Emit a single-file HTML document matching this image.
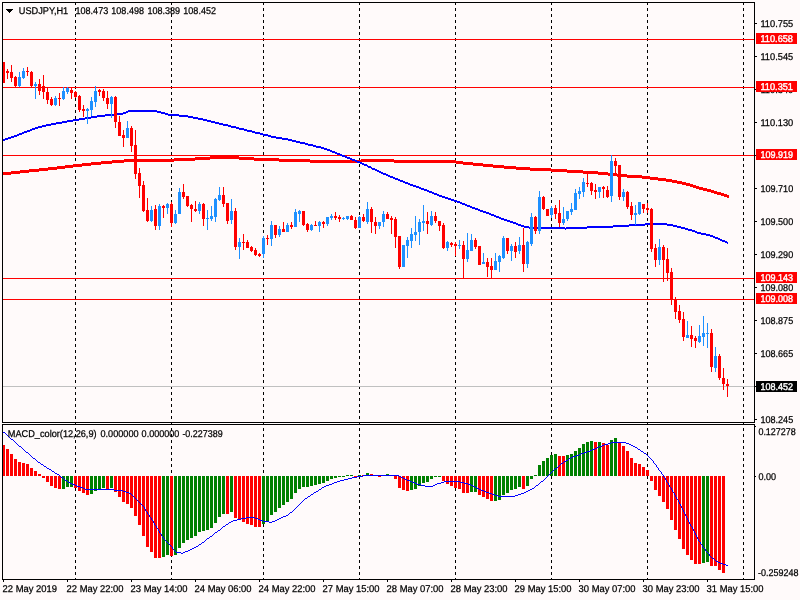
<!DOCTYPE html>
<html><head><meta charset="utf-8"><title>USDJPY,H1</title>
<style>html,body{margin:0;padding:0;background:#fffafa;overflow:hidden}svg{display:block}text{font-family:"Liberation Sans",sans-serif;font-size:9.8px;text-rendering:geometricPrecision;stroke:#000;stroke-width:0.25px}text.w{stroke:#fff;stroke-width:0.4px}</style>
</head><body>
<svg width="800" height="600" viewBox="0 0 800 600">
<rect x="0" y="0" width="800" height="600" fill="#fffafa"/>
<g shape-rendering="crispEdges">
<line x1="75.5" y1="2" x2="75.5" y2="579" stroke="#000" stroke-width="1" stroke-dasharray="3 3"/>
<line x1="171.5" y1="2" x2="171.5" y2="579" stroke="#000" stroke-width="1" stroke-dasharray="3 3"/>
<line x1="263.5" y1="2" x2="263.5" y2="579" stroke="#000" stroke-width="1" stroke-dasharray="3 3"/>
<line x1="359.5" y1="2" x2="359.5" y2="579" stroke="#000" stroke-width="1" stroke-dasharray="3 3"/>
<line x1="455.5" y1="2" x2="455.5" y2="579" stroke="#000" stroke-width="1" stroke-dasharray="3 3"/>
<line x1="551.5" y1="2" x2="551.5" y2="579" stroke="#000" stroke-width="1" stroke-dasharray="3 3"/>
<line x1="647.5" y1="2" x2="647.5" y2="579" stroke="#000" stroke-width="1" stroke-dasharray="3 3"/>
<line x1="743.5" y1="2" x2="743.5" y2="579" stroke="#000" stroke-width="1" stroke-dasharray="3 3"/>
<rect x="3" y="39" width="751" height="1" fill="#ff0000"/>
<rect x="3" y="87" width="751" height="1" fill="#ff0000"/>
<rect x="3" y="155" width="751" height="1" fill="#ff0000"/>
<rect x="3" y="278" width="751" height="1" fill="#ff0000"/>
<rect x="3" y="299" width="751" height="1" fill="#ff0000"/>
<rect x="3" y="386" width="751" height="1" fill="#c0c0c0"/>
</g>
<path shape-rendering="crispEdges" fill="#ff0000" d="M3 172h8v3h-8zM11 171h9v3h-9zM20 170h9v3h-9zM29 169h10v3h-10zM39 168h9v3h-9zM48 167h9v3h-9zM57 166h8v3h-8zM65 165h8v3h-8zM73 164h9v3h-9zM82 163h9v3h-9zM91 162h10v3h-10zM101 161h11v3h-11zM112 160h12v3h-12zM124 159h50v3h-50zM174 158h21v3h-21zM195 157h15v3h-15zM210 156h29v3h-29zM239 157h15v3h-15zM254 158h25v3h-25zM279 159h31v3h-31zM310 160h51v3h-51zM361 159h33v3h-33zM394 160h62v3h-62zM456 161h7v3h-7zM463 162h10v3h-10zM473 163h10v3h-10zM483 164h10v3h-10zM493 165h11v3h-11zM504 166h12v3h-12zM516 167h14v3h-14zM530 168h21v3h-21zM551 169h16v3h-16zM567 170h16v3h-16zM583 171h15v3h-15zM598 172h10v3h-10zM608 173h9v3h-9zM617 174h10v3h-10zM627 175h15v3h-15zM642 176h8v3h-8zM650 177h8v3h-8zM658 178h8v3h-8zM666 179h6v3h-6zM672 180h5v3h-5zM677 181h5v3h-5zM682 182h4v3h-4zM686 183h4v3h-4zM690 184h3v3h-3zM693 185h3v3h-3zM696 186h3v3h-3zM699 187h4v3h-4zM703 188h4v3h-4zM707 189h4v3h-4zM711 190h3v3h-3zM714 191h3v3h-3zM717 192h4v3h-4zM721 193h3v3h-3zM724 194h3v3h-3zM727 195h2v3h-2z"/>
<path shape-rendering="crispEdges" fill="#0000ff" d="M3 139h2v2h-2zM5 138h3v2h-3zM8 137h3v2h-3zM11 136h3v2h-3zM14 135h3v2h-3zM17 134h2v2h-2zM19 133h3v2h-3zM22 132h2v2h-2zM24 131h3v2h-3zM27 130h3v2h-3zM30 129h2v2h-2zM32 128h3v2h-3zM35 127h3v2h-3zM38 126h4v2h-4zM42 125h4v2h-4zM46 124h5v2h-5zM51 123h5v2h-5zM56 122h6v2h-6zM62 121h5v2h-5zM67 120h6v2h-6zM73 119h6v2h-6zM79 118h6v2h-6zM85 117h6v2h-6zM91 116h6v2h-6zM97 115h8v2h-8zM105 114h12v2h-12zM117 113h6v2h-6zM123 112h3v2h-3zM126 111h2v2h-2zM128 110h29v2h-29zM157 111h4v2h-4zM161 112h4v2h-4zM165 113h3v2h-3zM168 114h11v2h-11zM179 115h9v2h-9zM188 116h5v2h-5zM193 117h5v2h-5zM198 118h5v2h-5zM203 119h4v2h-4zM207 120h4v2h-4zM211 121h4v2h-4zM215 122h4v2h-4zM219 123h4v2h-4zM223 124h5v2h-5zM228 125h3v2h-3zM231 126h5v2h-5zM236 127h3v2h-3zM239 128h5v2h-5zM244 129h3v2h-3zM247 130h5v2h-5zM252 131h3v2h-3zM255 132h5v2h-5zM260 133h3v2h-3zM263 134h5v2h-5zM268 135h3v2h-3zM271 136h5v2h-5zM276 137h6v2h-6zM282 138h6v2h-6zM288 139h4v2h-4zM292 140h4v2h-4zM296 141h4v2h-4zM300 142h5v2h-5zM305 143h3v2h-3zM308 144h5v2h-5zM313 145h3v2h-3zM316 146h5v2h-5zM321 147h3v2h-3zM324 148h3v2h-3zM327 149h3v2h-3zM330 150h2v2h-2zM332 151h3v2h-3zM335 152h2v2h-2zM337 153h3v2h-3zM340 154h2v2h-2zM342 155h3v2h-3zM345 156h2v2h-2zM347 157h3v2h-3zM350 158h2v2h-2zM352 159h3v2h-3zM355 160h2v2h-2zM357 161h3v2h-3zM360 162h2v2h-2zM362 163h2v2h-2zM364 164h3v2h-3zM367 165h1v2h-1zM368 166h3v2h-3zM371 167h1v2h-1zM372 168h3v2h-3zM375 169h2v2h-2zM377 170h2v2h-2zM379 171h2v2h-2zM381 172h2v2h-2zM383 173h3v2h-3zM386 174h2v2h-2zM388 175h2v2h-2zM390 176h3v2h-3zM393 177h2v2h-2zM395 178h3v2h-3zM398 179h2v2h-2zM400 180h3v2h-3zM403 181h2v2h-2zM405 182h3v2h-3zM408 183h2v2h-2zM410 184h3v2h-3zM413 185h3v2h-3zM416 186h3v2h-3zM419 187h2v2h-2zM421 188h3v2h-3zM424 189h3v2h-3zM427 190h2v2h-2zM429 191h3v2h-3zM432 192h2v2h-2zM434 193h3v2h-3zM437 194h2v2h-2zM439 195h3v2h-3zM442 196h3v2h-3zM445 197h3v2h-3zM448 198h3v2h-3zM451 199h3v2h-3zM454 200h3v2h-3zM457 201h3v2h-3zM460 202h2v2h-2zM462 203h3v2h-3zM465 204h2v2h-2zM467 205h3v2h-3zM470 206h2v2h-2zM472 207h3v2h-3zM475 208h3v2h-3zM478 209h2v2h-2zM480 210h3v2h-3zM483 211h3v2h-3zM486 212h3v2h-3zM489 213h2v2h-2zM491 214h3v2h-3zM494 215h2v2h-2zM496 216h3v2h-3zM499 217h2v2h-2zM501 218h3v2h-3zM504 219h3v2h-3zM507 220h3v2h-3zM510 221h3v2h-3zM513 222h3v2h-3zM516 223h2v2h-2zM518 224h3v2h-3zM521 225h3v2h-3zM524 226h5v2h-5zM529 227h36v2h-36zM565 228h1v2h-1zM566 227h21v2h-21zM587 226h26v2h-26zM613 225h16v2h-16zM629 224h16v2h-16zM645 223h22v2h-22zM667 224h6v2h-6zM673 225h4v2h-4zM677 226h4v2h-4zM681 227h4v2h-4zM685 228h3v2h-3zM688 229h4v2h-4zM692 230h3v2h-3zM695 231h2v2h-2zM697 232h4v2h-4zM701 233h5v2h-5zM706 234h4v2h-4zM710 235h3v2h-3zM713 236h2v2h-2zM715 237h3v2h-3zM718 238h2v2h-2zM720 239h2v2h-2zM722 240h3v2h-3zM725 241h2v2h-2zM727 242h1v2h-1z"/>
<g shape-rendering="crispEdges">
<rect x="3" y="62" width="1" height="21" fill="#ff0000"/><rect x="2" y="62" width="3" height="21" fill="#ff0000"/>
<rect x="7" y="69" width="1" height="10" fill="#ff0000"/><rect x="6" y="71" width="3" height="2" fill="#ff0000"/>
<rect x="11" y="65" width="1" height="17" fill="#ff0000"/><rect x="10" y="72" width="3" height="6" fill="#ff0000"/>
<rect x="15" y="76" width="1" height="11" fill="#ff0000"/><rect x="14" y="77" width="3" height="9" fill="#ff0000"/>
<rect x="19" y="72" width="1" height="15" fill="#1e90ff"/><rect x="18" y="77" width="3" height="9" fill="#1e90ff"/>
<rect x="23" y="68" width="1" height="11" fill="#1e90ff"/><rect x="22" y="71" width="3" height="7" fill="#1e90ff"/>
<rect x="27" y="67" width="1" height="9" fill="#ff0000"/><rect x="26" y="71" width="3" height="1" fill="#ff0000"/>
<rect x="31" y="71" width="1" height="16" fill="#ff0000"/><rect x="30" y="72" width="3" height="14" fill="#ff0000"/>
<rect x="35" y="82" width="1" height="17" fill="#1e90ff"/><rect x="34" y="84" width="3" height="2" fill="#1e90ff"/>
<rect x="39" y="79" width="1" height="16" fill="#ff0000"/><rect x="38" y="84" width="3" height="7" fill="#ff0000"/>
<rect x="43" y="75" width="1" height="24" fill="#ff0000"/><rect x="42" y="86" width="3" height="6" fill="#ff0000"/>
<rect x="47" y="88" width="1" height="16" fill="#ff0000"/><rect x="46" y="92" width="3" height="8" fill="#ff0000"/>
<rect x="51" y="97" width="1" height="9" fill="#ff0000"/><rect x="50" y="99" width="3" height="6" fill="#ff0000"/>
<rect x="55" y="96" width="1" height="10" fill="#1e90ff"/><rect x="54" y="98" width="3" height="7" fill="#1e90ff"/>
<rect x="59" y="93" width="1" height="13" fill="#ff0000"/><rect x="58" y="98" width="3" height="1" fill="#ff0000"/>
<rect x="63" y="87" width="1" height="13" fill="#1e90ff"/><rect x="62" y="91" width="3" height="8" fill="#1e90ff"/>
<rect x="67" y="87" width="1" height="7" fill="#1e90ff"/><rect x="66" y="88" width="3" height="4" fill="#1e90ff"/>
<rect x="71" y="88" width="1" height="11" fill="#ff0000"/><rect x="70" y="90" width="3" height="3" fill="#ff0000"/>
<rect x="75" y="91" width="1" height="7" fill="#ff0000"/><rect x="74" y="92" width="3" height="5" fill="#ff0000"/>
<rect x="79" y="95" width="1" height="17" fill="#ff0000"/><rect x="78" y="96" width="3" height="14" fill="#ff0000"/>
<rect x="83" y="105" width="1" height="12" fill="#ff0000"/><rect x="82" y="109" width="3" height="2" fill="#ff0000"/>
<rect x="87" y="108" width="1" height="16" fill="#1e90ff"/><rect x="86" y="109" width="3" height="2" fill="#1e90ff"/>
<rect x="91" y="97" width="1" height="19" fill="#1e90ff"/><rect x="90" y="101" width="3" height="9" fill="#1e90ff"/>
<rect x="95" y="86" width="1" height="21" fill="#1e90ff"/><rect x="94" y="91" width="3" height="11" fill="#1e90ff"/>
<rect x="99" y="89" width="1" height="7" fill="#ff0000"/><rect x="98" y="90" width="3" height="2" fill="#ff0000"/>
<rect x="103" y="89" width="1" height="12" fill="#ff0000"/><rect x="102" y="91" width="3" height="7" fill="#ff0000"/>
<rect x="107" y="91" width="1" height="18" fill="#ff0000"/><rect x="106" y="98" width="3" height="6" fill="#ff0000"/>
<rect x="111" y="96" width="1" height="22" fill="#1e90ff"/><rect x="110" y="97" width="3" height="7" fill="#1e90ff"/>
<rect x="115" y="96" width="1" height="32" fill="#ff0000"/><rect x="114" y="97" width="3" height="25" fill="#ff0000"/>
<rect x="119" y="116" width="1" height="20" fill="#ff0000"/><rect x="118" y="122" width="3" height="14" fill="#ff0000"/>
<rect x="123" y="130" width="1" height="17" fill="#ff0000"/><rect x="122" y="135" width="3" height="3" fill="#ff0000"/>
<rect x="127" y="121" width="1" height="17" fill="#1e90ff"/><rect x="126" y="128" width="3" height="10" fill="#1e90ff"/>
<rect x="131" y="126" width="1" height="26" fill="#ff0000"/><rect x="130" y="128" width="3" height="18" fill="#ff0000"/>
<rect x="135" y="130" width="1" height="49" fill="#ff0000"/><rect x="134" y="145" width="3" height="29" fill="#ff0000"/>
<rect x="139" y="168" width="1" height="30" fill="#ff0000"/><rect x="138" y="173" width="3" height="13" fill="#ff0000"/>
<rect x="143" y="181" width="1" height="31" fill="#ff0000"/><rect x="142" y="185" width="3" height="26" fill="#ff0000"/>
<rect x="147" y="198" width="1" height="24" fill="#ff0000"/><rect x="146" y="210" width="3" height="11" fill="#ff0000"/>
<rect x="151" y="206" width="1" height="16" fill="#1e90ff"/><rect x="150" y="210" width="3" height="11" fill="#1e90ff"/>
<rect x="155" y="205" width="1" height="25" fill="#ff0000"/><rect x="154" y="209" width="3" height="17" fill="#ff0000"/>
<rect x="159" y="204" width="1" height="26" fill="#1e90ff"/><rect x="158" y="206" width="3" height="20" fill="#1e90ff"/>
<rect x="163" y="205" width="1" height="13" fill="#ff0000"/><rect x="162" y="206" width="3" height="2" fill="#ff0000"/>
<rect x="167" y="203" width="1" height="11" fill="#1e90ff"/><rect x="166" y="204" width="3" height="4" fill="#1e90ff"/>
<rect x="171" y="202" width="1" height="25" fill="#ff0000"/><rect x="170" y="204" width="3" height="19" fill="#ff0000"/>
<rect x="175" y="210" width="1" height="14" fill="#1e90ff"/><rect x="174" y="214" width="3" height="9" fill="#1e90ff"/>
<rect x="179" y="188" width="1" height="26" fill="#1e90ff"/><rect x="178" y="192" width="3" height="22" fill="#1e90ff"/>
<rect x="183" y="184" width="1" height="15" fill="#ff0000"/><rect x="182" y="192" width="3" height="5" fill="#ff0000"/>
<rect x="187" y="196" width="1" height="11" fill="#ff0000"/><rect x="186" y="196" width="3" height="10" fill="#ff0000"/>
<rect x="191" y="204" width="1" height="18" fill="#ff0000"/><rect x="190" y="205" width="3" height="4" fill="#ff0000"/>
<rect x="195" y="201" width="1" height="11" fill="#ff0000"/><rect x="194" y="209" width="3" height="2" fill="#ff0000"/>
<rect x="199" y="202" width="1" height="12" fill="#1e90ff"/><rect x="198" y="204" width="3" height="7" fill="#1e90ff"/>
<rect x="203" y="203" width="1" height="23" fill="#ff0000"/><rect x="202" y="204" width="3" height="15" fill="#ff0000"/>
<rect x="207" y="210" width="1" height="20" fill="#1e90ff"/><rect x="206" y="218" width="3" height="1" fill="#1e90ff"/>
<rect x="211" y="206" width="1" height="15" fill="#1e90ff"/><rect x="210" y="216" width="3" height="3" fill="#1e90ff"/>
<rect x="215" y="198" width="1" height="24" fill="#1e90ff"/><rect x="214" y="199" width="3" height="18" fill="#1e90ff"/>
<rect x="219" y="187" width="1" height="14" fill="#1e90ff"/><rect x="218" y="195" width="3" height="5" fill="#1e90ff"/>
<rect x="223" y="187" width="1" height="20" fill="#ff0000"/><rect x="222" y="195" width="3" height="9" fill="#ff0000"/>
<rect x="227" y="203" width="1" height="21" fill="#ff0000"/><rect x="226" y="203" width="3" height="18" fill="#ff0000"/>
<rect x="231" y="199" width="1" height="25" fill="#1e90ff"/><rect x="230" y="211" width="3" height="9" fill="#1e90ff"/>
<rect x="235" y="208" width="1" height="42" fill="#ff0000"/><rect x="234" y="211" width="3" height="36" fill="#ff0000"/>
<rect x="239" y="238" width="1" height="21" fill="#1e90ff"/><rect x="238" y="242" width="3" height="5" fill="#1e90ff"/>
<rect x="243" y="234" width="1" height="16" fill="#ff0000"/><rect x="242" y="242" width="3" height="1" fill="#ff0000"/>
<rect x="247" y="240" width="1" height="8" fill="#ff0000"/><rect x="246" y="242" width="3" height="6" fill="#ff0000"/>
<rect x="251" y="246" width="1" height="6" fill="#ff0000"/><rect x="250" y="247" width="3" height="4" fill="#ff0000"/>
<rect x="255" y="248" width="1" height="8" fill="#ff0000"/><rect x="254" y="250" width="3" height="5" fill="#ff0000"/>
<rect x="259" y="253" width="1" height="4" fill="#ff0000"/><rect x="258" y="254" width="3" height="2" fill="#ff0000"/>
<rect x="263" y="236" width="1" height="22" fill="#1e90ff"/><rect x="262" y="238" width="3" height="16" fill="#1e90ff"/>
<rect x="267" y="235" width="1" height="10" fill="#ff0000"/><rect x="266" y="238" width="3" height="1" fill="#ff0000"/>
<rect x="271" y="221" width="1" height="25" fill="#1e90ff"/><rect x="270" y="225" width="3" height="14" fill="#1e90ff"/>
<rect x="275" y="225" width="1" height="13" fill="#ff0000"/><rect x="274" y="225" width="3" height="10" fill="#ff0000"/>
<rect x="279" y="226" width="1" height="11" fill="#1e90ff"/><rect x="278" y="229" width="3" height="6" fill="#1e90ff"/>
<rect x="283" y="222" width="1" height="10" fill="#ff0000"/><rect x="282" y="229" width="3" height="3" fill="#ff0000"/>
<rect x="287" y="223" width="1" height="9" fill="#1e90ff"/><rect x="286" y="225" width="3" height="7" fill="#1e90ff"/>
<rect x="291" y="222" width="1" height="7" fill="#ff0000"/><rect x="290" y="225" width="3" height="2" fill="#ff0000"/>
<rect x="295" y="209" width="1" height="18" fill="#1e90ff"/><rect x="294" y="212" width="3" height="15" fill="#1e90ff"/>
<rect x="299" y="210" width="1" height="12" fill="#1e90ff"/><rect x="298" y="211" width="3" height="3" fill="#1e90ff"/>
<rect x="303" y="211" width="1" height="15" fill="#ff0000"/><rect x="302" y="211" width="3" height="14" fill="#ff0000"/>
<rect x="307" y="223" width="1" height="9" fill="#ff0000"/><rect x="306" y="224" width="3" height="6" fill="#ff0000"/>
<rect x="311" y="224" width="1" height="7" fill="#1e90ff"/><rect x="310" y="225" width="3" height="5" fill="#1e90ff"/>
<rect x="315" y="221" width="1" height="5" fill="#ff0000"/><rect x="314" y="225" width="3" height="1" fill="#ff0000"/>
<rect x="319" y="221" width="1" height="11" fill="#1e90ff"/><rect x="318" y="222" width="3" height="4" fill="#1e90ff"/>
<rect x="323" y="221" width="1" height="7" fill="#ff0000"/><rect x="322" y="222" width="3" height="2" fill="#ff0000"/>
<rect x="327" y="217" width="1" height="9" fill="#1e90ff"/><rect x="326" y="217" width="3" height="7" fill="#1e90ff"/>
<rect x="331" y="214" width="1" height="6" fill="#1e90ff"/><rect x="330" y="216" width="3" height="2" fill="#1e90ff"/>
<rect x="335" y="212" width="1" height="8" fill="#ff0000"/><rect x="334" y="216" width="3" height="2" fill="#ff0000"/>
<rect x="339" y="215" width="1" height="7" fill="#ff0000"/><rect x="338" y="217" width="3" height="2" fill="#ff0000"/>
<rect x="343" y="217" width="1" height="3" fill="#1e90ff"/><rect x="342" y="218" width="3" height="1" fill="#1e90ff"/>
<rect x="347" y="216" width="1" height="4" fill="#1e90ff"/><rect x="346" y="216" width="3" height="3" fill="#1e90ff"/>
<rect x="351" y="215" width="1" height="5" fill="#ff0000"/><rect x="350" y="216" width="3" height="4" fill="#ff0000"/>
<rect x="355" y="217" width="1" height="12" fill="#ff0000"/><rect x="354" y="220" width="3" height="8" fill="#ff0000"/>
<rect x="359" y="216" width="1" height="12" fill="#1e90ff"/><rect x="358" y="217" width="3" height="11" fill="#1e90ff"/>
<rect x="363" y="214" width="1" height="8" fill="#ff0000"/><rect x="362" y="217" width="3" height="4" fill="#ff0000"/>
<rect x="367" y="202" width="1" height="22" fill="#1e90ff"/><rect x="366" y="209" width="3" height="13" fill="#1e90ff"/>
<rect x="371" y="207" width="1" height="26" fill="#ff0000"/><rect x="370" y="209" width="3" height="13" fill="#ff0000"/>
<rect x="375" y="217" width="1" height="17" fill="#ff0000"/><rect x="374" y="222" width="3" height="4" fill="#ff0000"/>
<rect x="379" y="222" width="1" height="7" fill="#1e90ff"/><rect x="378" y="222" width="3" height="4" fill="#1e90ff"/>
<rect x="383" y="211" width="1" height="16" fill="#1e90ff"/><rect x="382" y="214" width="3" height="8" fill="#1e90ff"/>
<rect x="387" y="212" width="1" height="7" fill="#ff0000"/><rect x="386" y="214" width="3" height="5" fill="#ff0000"/>
<rect x="391" y="216" width="1" height="18" fill="#ff0000"/><rect x="390" y="218" width="3" height="2" fill="#ff0000"/>
<rect x="395" y="217" width="1" height="31" fill="#ff0000"/><rect x="394" y="219" width="3" height="18" fill="#ff0000"/>
<rect x="399" y="236" width="1" height="33" fill="#ff0000"/><rect x="398" y="236" width="3" height="31" fill="#ff0000"/>
<rect x="403" y="245" width="1" height="22" fill="#1e90ff"/><rect x="402" y="245" width="3" height="22" fill="#1e90ff"/>
<rect x="407" y="237" width="1" height="21" fill="#1e90ff"/><rect x="406" y="240" width="3" height="6" fill="#1e90ff"/>
<rect x="411" y="228" width="1" height="20" fill="#1e90ff"/><rect x="410" y="234" width="3" height="7" fill="#1e90ff"/>
<rect x="415" y="216" width="1" height="25" fill="#1e90ff"/><rect x="414" y="232" width="3" height="3" fill="#1e90ff"/>
<rect x="419" y="219" width="1" height="26" fill="#1e90ff"/><rect x="418" y="222" width="3" height="10" fill="#1e90ff"/>
<rect x="423" y="205" width="1" height="26" fill="#1e90ff"/><rect x="422" y="221" width="3" height="2" fill="#1e90ff"/>
<rect x="427" y="212" width="1" height="22" fill="#ff0000"/><rect x="426" y="221" width="3" height="3" fill="#ff0000"/>
<rect x="431" y="211" width="1" height="15" fill="#1e90ff"/><rect x="430" y="216" width="3" height="9" fill="#1e90ff"/>
<rect x="435" y="212" width="1" height="11" fill="#ff0000"/><rect x="434" y="216" width="3" height="5" fill="#ff0000"/>
<rect x="439" y="221" width="1" height="10" fill="#ff0000"/><rect x="438" y="221" width="3" height="5" fill="#ff0000"/>
<rect x="443" y="223" width="1" height="26" fill="#ff0000"/><rect x="442" y="225" width="3" height="23" fill="#ff0000"/>
<rect x="447" y="241" width="1" height="10" fill="#1e90ff"/><rect x="446" y="242" width="3" height="6" fill="#1e90ff"/>
<rect x="451" y="242" width="1" height="5" fill="#ff0000"/><rect x="450" y="243" width="3" height="2" fill="#ff0000"/>
<rect x="455" y="242" width="1" height="14" fill="#ff0000"/><rect x="454" y="244" width="3" height="2" fill="#ff0000"/>
<rect x="459" y="240" width="1" height="9" fill="#1e90ff"/><rect x="458" y="245" width="3" height="1" fill="#1e90ff"/>
<rect x="463" y="241" width="1" height="37" fill="#ff0000"/><rect x="462" y="245" width="3" height="14" fill="#ff0000"/>
<rect x="467" y="233" width="1" height="29" fill="#1e90ff"/><rect x="466" y="250" width="3" height="9" fill="#1e90ff"/>
<rect x="471" y="234" width="1" height="17" fill="#1e90ff"/><rect x="470" y="240" width="3" height="11" fill="#1e90ff"/>
<rect x="475" y="238" width="1" height="11" fill="#ff0000"/><rect x="474" y="240" width="3" height="7" fill="#ff0000"/>
<rect x="479" y="246" width="1" height="19" fill="#ff0000"/><rect x="478" y="246" width="3" height="19" fill="#ff0000"/>
<rect x="483" y="253" width="1" height="11" fill="#1e90ff"/><rect x="482" y="262" width="3" height="2" fill="#1e90ff"/>
<rect x="487" y="258" width="1" height="19" fill="#ff0000"/><rect x="486" y="262" width="3" height="5" fill="#ff0000"/>
<rect x="491" y="258" width="1" height="20" fill="#ff0000"/><rect x="490" y="266" width="3" height="4" fill="#ff0000"/>
<rect x="495" y="253" width="1" height="17" fill="#1e90ff"/><rect x="494" y="261" width="3" height="9" fill="#1e90ff"/>
<rect x="499" y="255" width="1" height="17" fill="#1e90ff"/><rect x="498" y="256" width="3" height="6" fill="#1e90ff"/>
<rect x="503" y="236" width="1" height="23" fill="#1e90ff"/><rect x="502" y="238" width="3" height="20" fill="#1e90ff"/>
<rect x="507" y="238" width="1" height="16" fill="#ff0000"/><rect x="506" y="238" width="3" height="13" fill="#ff0000"/>
<rect x="511" y="244" width="1" height="17" fill="#1e90ff"/><rect x="510" y="246" width="3" height="5" fill="#1e90ff"/>
<rect x="515" y="242" width="1" height="16" fill="#ff0000"/><rect x="514" y="246" width="3" height="6" fill="#ff0000"/>
<rect x="519" y="237" width="1" height="17" fill="#1e90ff"/><rect x="518" y="245" width="3" height="6" fill="#1e90ff"/>
<rect x="523" y="228" width="1" height="44" fill="#ff0000"/><rect x="522" y="245" width="3" height="19" fill="#ff0000"/>
<rect x="527" y="241" width="1" height="27" fill="#1e90ff"/><rect x="526" y="242" width="3" height="22" fill="#1e90ff"/>
<rect x="531" y="213" width="1" height="33" fill="#1e90ff"/><rect x="530" y="217" width="3" height="27" fill="#1e90ff"/>
<rect x="535" y="216" width="1" height="18" fill="#ff0000"/><rect x="534" y="217" width="3" height="14" fill="#ff0000"/>
<rect x="539" y="191" width="1" height="43" fill="#1e90ff"/><rect x="538" y="197" width="3" height="34" fill="#1e90ff"/>
<rect x="543" y="196" width="1" height="14" fill="#ff0000"/><rect x="542" y="197" width="3" height="12" fill="#ff0000"/>
<rect x="547" y="209" width="1" height="7" fill="#ff0000"/><rect x="546" y="209" width="3" height="7" fill="#ff0000"/>
<rect x="551" y="206" width="1" height="12" fill="#1e90ff"/><rect x="550" y="208" width="3" height="7" fill="#1e90ff"/>
<rect x="555" y="205" width="1" height="14" fill="#ff0000"/><rect x="554" y="208" width="3" height="6" fill="#ff0000"/>
<rect x="559" y="200" width="1" height="27" fill="#ff0000"/><rect x="558" y="213" width="3" height="10" fill="#ff0000"/>
<rect x="563" y="207" width="1" height="18" fill="#1e90ff"/><rect x="562" y="219" width="3" height="4" fill="#1e90ff"/>
<rect x="567" y="211" width="1" height="10" fill="#1e90ff"/><rect x="566" y="211" width="3" height="8" fill="#1e90ff"/>
<rect x="571" y="203" width="1" height="12" fill="#1e90ff"/><rect x="570" y="209" width="3" height="3" fill="#1e90ff"/>
<rect x="575" y="189" width="1" height="21" fill="#1e90ff"/><rect x="574" y="193" width="3" height="17" fill="#1e90ff"/>
<rect x="579" y="187" width="1" height="12" fill="#1e90ff"/><rect x="578" y="191" width="3" height="3" fill="#1e90ff"/>
<rect x="583" y="178" width="1" height="19" fill="#1e90ff"/><rect x="582" y="182" width="3" height="10" fill="#1e90ff"/>
<rect x="587" y="173" width="1" height="14" fill="#ff0000"/><rect x="586" y="183" width="3" height="1" fill="#ff0000"/>
<rect x="591" y="182" width="1" height="13" fill="#ff0000"/><rect x="590" y="183" width="3" height="8" fill="#ff0000"/>
<rect x="595" y="184" width="1" height="15" fill="#ff0000"/><rect x="594" y="190" width="3" height="2" fill="#ff0000"/>
<rect x="599" y="187" width="1" height="11" fill="#1e90ff"/><rect x="598" y="187" width="3" height="5" fill="#1e90ff"/>
<rect x="603" y="186" width="1" height="12" fill="#ff0000"/><rect x="602" y="187" width="3" height="2" fill="#ff0000"/>
<rect x="607" y="186" width="1" height="12" fill="#ff0000"/><rect x="606" y="190" width="3" height="7" fill="#ff0000"/>
<rect x="611" y="155" width="1" height="47" fill="#1e90ff"/><rect x="610" y="161" width="3" height="35" fill="#1e90ff"/>
<rect x="615" y="158" width="1" height="16" fill="#ff0000"/><rect x="614" y="161" width="3" height="5" fill="#ff0000"/>
<rect x="619" y="165" width="1" height="35" fill="#ff0000"/><rect x="618" y="165" width="3" height="32" fill="#ff0000"/>
<rect x="623" y="189" width="1" height="12" fill="#1e90ff"/><rect x="622" y="192" width="3" height="5" fill="#1e90ff"/>
<rect x="627" y="191" width="1" height="18" fill="#ff0000"/><rect x="626" y="192" width="3" height="15" fill="#ff0000"/>
<rect x="631" y="202" width="1" height="18" fill="#ff0000"/><rect x="630" y="206" width="3" height="9" fill="#ff0000"/>
<rect x="635" y="205" width="1" height="20" fill="#1e90ff"/><rect x="634" y="213" width="3" height="2" fill="#1e90ff"/>
<rect x="639" y="202" width="1" height="13" fill="#1e90ff"/><rect x="638" y="202" width="3" height="12" fill="#1e90ff"/>
<rect x="643" y="204" width="1" height="9" fill="#ff0000"/><rect x="642" y="204" width="3" height="5" fill="#ff0000"/>
<rect x="647" y="203" width="1" height="10" fill="#ff0000"/><rect x="646" y="208" width="3" height="2" fill="#ff0000"/>
<rect x="651" y="208" width="1" height="44" fill="#ff0000"/><rect x="650" y="209" width="3" height="40" fill="#ff0000"/>
<rect x="655" y="244" width="1" height="23" fill="#ff0000"/><rect x="654" y="248" width="3" height="12" fill="#ff0000"/>
<rect x="659" y="239" width="1" height="26" fill="#1e90ff"/><rect x="658" y="247" width="3" height="13" fill="#1e90ff"/>
<rect x="663" y="245" width="1" height="37" fill="#ff0000"/><rect x="662" y="247" width="3" height="13" fill="#ff0000"/>
<rect x="667" y="248" width="1" height="33" fill="#ff0000"/><rect x="666" y="259" width="3" height="14" fill="#ff0000"/>
<rect x="671" y="268" width="1" height="37" fill="#ff0000"/><rect x="670" y="272" width="3" height="27" fill="#ff0000"/>
<rect x="675" y="297" width="1" height="22" fill="#ff0000"/><rect x="674" y="299" width="3" height="13" fill="#ff0000"/>
<rect x="679" y="305" width="1" height="18" fill="#ff0000"/><rect x="678" y="311" width="3" height="9" fill="#ff0000"/>
<rect x="683" y="312" width="1" height="29" fill="#ff0000"/><rect x="682" y="319" width="3" height="18" fill="#ff0000"/>
<rect x="687" y="321" width="1" height="17" fill="#1e90ff"/><rect x="686" y="335" width="3" height="3" fill="#1e90ff"/>
<rect x="691" y="326" width="1" height="21" fill="#ff0000"/><rect x="690" y="335" width="3" height="4" fill="#ff0000"/>
<rect x="695" y="336" width="1" height="12" fill="#ff0000"/><rect x="694" y="338" width="3" height="3" fill="#ff0000"/>
<rect x="699" y="325" width="1" height="18" fill="#1e90ff"/><rect x="698" y="336" width="3" height="6" fill="#1e90ff"/>
<rect x="703" y="316" width="1" height="30" fill="#1e90ff"/><rect x="702" y="333" width="3" height="4" fill="#1e90ff"/>
<rect x="707" y="323" width="1" height="25" fill="#1e90ff"/><rect x="706" y="333" width="3" height="1" fill="#1e90ff"/>
<rect x="711" y="329" width="1" height="43" fill="#ff0000"/><rect x="710" y="333" width="3" height="34" fill="#ff0000"/>
<rect x="715" y="347" width="1" height="25" fill="#1e90ff"/><rect x="714" y="356" width="3" height="12" fill="#1e90ff"/>
<rect x="719" y="354" width="1" height="26" fill="#ff0000"/><rect x="718" y="356" width="3" height="22" fill="#ff0000"/>
<rect x="723" y="368" width="1" height="22" fill="#ff0000"/><rect x="722" y="378" width="3" height="6" fill="#ff0000"/>
<rect x="727" y="379" width="1" height="18" fill="#ff0000"/><rect x="726" y="384" width="3" height="2" fill="#ff0000"/>
</g>
<g shape-rendering="crispEdges">
<rect x="2" y="445" width="3" height="31" fill="#ff0000"/>
<rect x="6" y="449" width="3" height="27" fill="#ff0000"/>
<rect x="10" y="454" width="3" height="22" fill="#ff0000"/>
<rect x="14" y="459" width="3" height="17" fill="#ff0000"/>
<rect x="18" y="462" width="3" height="14" fill="#ff0000"/>
<rect x="22" y="463" width="3" height="13" fill="#ff0000"/>
<rect x="26" y="464" width="3" height="12" fill="#ff0000"/>
<rect x="30" y="468" width="3" height="8" fill="#ff0000"/>
<rect x="34" y="471" width="3" height="5" fill="#ff0000"/>
<rect x="38" y="474" width="3" height="2" fill="#ff0000"/>
<rect x="42" y="476" width="3" height="2" fill="#ff0000"/>
<rect x="46" y="476" width="3" height="6" fill="#ff0000"/>
<rect x="50" y="476" width="3" height="10" fill="#ff0000"/>
<rect x="54" y="476" width="3" height="12" fill="#ff0000"/>
<rect x="58" y="476" width="3" height="13" fill="#ff0000"/>
<rect x="62" y="476" width="3" height="13" fill="#008000"/>
<rect x="66" y="476" width="3" height="11" fill="#008000"/>
<rect x="70" y="476" width="3" height="11" fill="#008000"/>
<rect x="74" y="476" width="3" height="12" fill="#ff0000"/>
<rect x="78" y="476" width="3" height="15" fill="#ff0000"/>
<rect x="82" y="476" width="3" height="17" fill="#ff0000"/>
<rect x="86" y="476" width="3" height="19" fill="#ff0000"/>
<rect x="90" y="476" width="3" height="18" fill="#008000"/>
<rect x="94" y="476" width="3" height="15" fill="#008000"/>
<rect x="98" y="476" width="3" height="14" fill="#008000"/>
<rect x="102" y="476" width="3" height="12" fill="#008000"/>
<rect x="106" y="476" width="3" height="13" fill="#ff0000"/>
<rect x="110" y="476" width="3" height="12" fill="#008000"/>
<rect x="114" y="476" width="3" height="16" fill="#ff0000"/>
<rect x="118" y="476" width="3" height="21" fill="#ff0000"/>
<rect x="122" y="476" width="3" height="26" fill="#ff0000"/>
<rect x="126" y="476" width="3" height="28" fill="#ff0000"/>
<rect x="130" y="476" width="3" height="32" fill="#ff0000"/>
<rect x="134" y="476" width="3" height="40" fill="#ff0000"/>
<rect x="138" y="476" width="3" height="49" fill="#ff0000"/>
<rect x="142" y="476" width="3" height="60" fill="#ff0000"/>
<rect x="146" y="476" width="3" height="71" fill="#ff0000"/>
<rect x="150" y="476" width="3" height="76" fill="#ff0000"/>
<rect x="154" y="476" width="3" height="82" fill="#ff0000"/>
<rect x="158" y="476" width="3" height="82" fill="#ff0000"/>
<rect x="162" y="476" width="3" height="81" fill="#008000"/>
<rect x="166" y="476" width="3" height="79" fill="#008000"/>
<rect x="170" y="476" width="3" height="80" fill="#ff0000"/>
<rect x="174" y="476" width="3" height="79" fill="#008000"/>
<rect x="178" y="476" width="3" height="72" fill="#008000"/>
<rect x="182" y="476" width="3" height="67" fill="#008000"/>
<rect x="186" y="476" width="3" height="64" fill="#008000"/>
<rect x="190" y="476" width="3" height="62" fill="#008000"/>
<rect x="194" y="476" width="3" height="60" fill="#008000"/>
<rect x="198" y="476" width="3" height="56" fill="#008000"/>
<rect x="202" y="476" width="3" height="55" fill="#008000"/>
<rect x="206" y="476" width="3" height="54" fill="#008000"/>
<rect x="210" y="476" width="3" height="52" fill="#008000"/>
<rect x="214" y="476" width="3" height="47" fill="#008000"/>
<rect x="218" y="476" width="3" height="41" fill="#008000"/>
<rect x="222" y="476" width="3" height="38" fill="#008000"/>
<rect x="226" y="476" width="3" height="38" fill="#ff0000"/>
<rect x="230" y="476" width="3" height="36" fill="#008000"/>
<rect x="234" y="476" width="3" height="42" fill="#ff0000"/>
<rect x="238" y="476" width="3" height="43" fill="#ff0000"/>
<rect x="242" y="476" width="3" height="46" fill="#ff0000"/>
<rect x="246" y="476" width="3" height="48" fill="#ff0000"/>
<rect x="250" y="476" width="3" height="49" fill="#ff0000"/>
<rect x="254" y="476" width="3" height="51" fill="#ff0000"/>
<rect x="258" y="476" width="3" height="51" fill="#ff0000"/>
<rect x="262" y="476" width="3" height="48" fill="#008000"/>
<rect x="266" y="476" width="3" height="45" fill="#008000"/>
<rect x="270" y="476" width="3" height="39" fill="#008000"/>
<rect x="274" y="476" width="3" height="36" fill="#008000"/>
<rect x="278" y="476" width="3" height="32" fill="#008000"/>
<rect x="282" y="476" width="3" height="29" fill="#008000"/>
<rect x="286" y="476" width="3" height="26" fill="#008000"/>
<rect x="290" y="476" width="3" height="23" fill="#008000"/>
<rect x="294" y="476" width="3" height="17" fill="#008000"/>
<rect x="298" y="476" width="3" height="13" fill="#008000"/>
<rect x="302" y="476" width="3" height="11" fill="#008000"/>
<rect x="306" y="476" width="3" height="11" fill="#008000"/>
<rect x="310" y="476" width="3" height="10" fill="#008000"/>
<rect x="314" y="476" width="3" height="9" fill="#008000"/>
<rect x="318" y="476" width="3" height="8" fill="#008000"/>
<rect x="322" y="476" width="3" height="7" fill="#008000"/>
<rect x="326" y="476" width="3" height="5" fill="#008000"/>
<rect x="330" y="476" width="3" height="3" fill="#008000"/>
<rect x="334" y="476" width="3" height="2" fill="#008000"/>
<rect x="338" y="476" width="3" height="1" fill="#008000"/>
<rect x="342" y="476" width="3" height="1" fill="#008000"/>
<rect x="346" y="475" width="3" height="1" fill="#008000"/>
<rect x="350" y="475" width="3" height="1" fill="#008000"/>
<rect x="354" y="476" width="3" height="1" fill="#ff0000"/>
<rect x="358" y="475" width="3" height="1" fill="#008000"/>
<rect x="362" y="475" width="3" height="1" fill="#ff0000"/>
<rect x="366" y="473" width="3" height="3" fill="#008000"/>
<rect x="370" y="474" width="3" height="2" fill="#ff0000"/>
<rect x="378" y="476" width="3" height="1" fill="#ff0000"/>
<rect x="386" y="474" width="3" height="2" fill="#008000"/>
<rect x="394" y="476" width="3" height="3" fill="#ff0000"/>
<rect x="398" y="476" width="3" height="12" fill="#ff0000"/>
<rect x="402" y="476" width="3" height="14" fill="#ff0000"/>
<rect x="406" y="476" width="3" height="15" fill="#ff0000"/>
<rect x="410" y="476" width="3" height="14" fill="#008000"/>
<rect x="414" y="476" width="3" height="13" fill="#008000"/>
<rect x="418" y="476" width="3" height="10" fill="#008000"/>
<rect x="422" y="476" width="3" height="7" fill="#008000"/>
<rect x="426" y="476" width="3" height="6" fill="#008000"/>
<rect x="430" y="476" width="3" height="3" fill="#008000"/>
<rect x="434" y="476" width="3" height="1" fill="#008000"/>
<rect x="438" y="476" width="3" height="1" fill="#008000"/>
<rect x="442" y="476" width="3" height="5" fill="#ff0000"/>
<rect x="446" y="476" width="3" height="8" fill="#ff0000"/>
<rect x="450" y="476" width="3" height="10" fill="#ff0000"/>
<rect x="454" y="476" width="3" height="12" fill="#ff0000"/>
<rect x="458" y="476" width="3" height="13" fill="#ff0000"/>
<rect x="462" y="476" width="3" height="17" fill="#ff0000"/>
<rect x="466" y="476" width="3" height="17" fill="#ff0000"/>
<rect x="470" y="476" width="3" height="16" fill="#008000"/>
<rect x="474" y="476" width="3" height="16" fill="#008000"/>
<rect x="478" y="476" width="3" height="19" fill="#ff0000"/>
<rect x="482" y="476" width="3" height="21" fill="#ff0000"/>
<rect x="486" y="476" width="3" height="23" fill="#ff0000"/>
<rect x="490" y="476" width="3" height="25" fill="#ff0000"/>
<rect x="494" y="476" width="3" height="25" fill="#008000"/>
<rect x="498" y="476" width="3" height="24" fill="#008000"/>
<rect x="502" y="476" width="3" height="19" fill="#008000"/>
<rect x="506" y="476" width="3" height="17" fill="#008000"/>
<rect x="510" y="476" width="3" height="14" fill="#008000"/>
<rect x="514" y="476" width="3" height="13" fill="#008000"/>
<rect x="518" y="476" width="3" height="11" fill="#008000"/>
<rect x="522" y="476" width="3" height="13" fill="#ff0000"/>
<rect x="526" y="476" width="3" height="10" fill="#008000"/>
<rect x="530" y="476" width="3" height="3" fill="#008000"/>
<rect x="534" y="475" width="3" height="1" fill="#008000"/>
<rect x="538" y="465" width="3" height="11" fill="#008000"/>
<rect x="542" y="461" width="3" height="15" fill="#008000"/>
<rect x="546" y="458" width="3" height="18" fill="#008000"/>
<rect x="550" y="455" width="3" height="21" fill="#008000"/>
<rect x="554" y="454" width="3" height="22" fill="#008000"/>
<rect x="558" y="456" width="3" height="20" fill="#ff0000"/>
<rect x="562" y="456" width="3" height="20" fill="#ff0000"/>
<rect x="566" y="455" width="3" height="21" fill="#008000"/>
<rect x="570" y="454" width="3" height="22" fill="#008000"/>
<rect x="574" y="451" width="3" height="25" fill="#008000"/>
<rect x="578" y="448" width="3" height="28" fill="#008000"/>
<rect x="582" y="444" width="3" height="32" fill="#008000"/>
<rect x="586" y="442" width="3" height="34" fill="#008000"/>
<rect x="590" y="441" width="3" height="35" fill="#008000"/>
<rect x="594" y="442" width="3" height="34" fill="#ff0000"/>
<rect x="598" y="442" width="3" height="34" fill="#008000"/>
<rect x="602" y="443" width="3" height="33" fill="#ff0000"/>
<rect x="606" y="445" width="3" height="31" fill="#ff0000"/>
<rect x="610" y="440" width="3" height="36" fill="#008000"/>
<rect x="614" y="438" width="3" height="38" fill="#008000"/>
<rect x="618" y="443" width="3" height="33" fill="#ff0000"/>
<rect x="622" y="446" width="3" height="30" fill="#ff0000"/>
<rect x="626" y="451" width="3" height="25" fill="#ff0000"/>
<rect x="630" y="458" width="3" height="18" fill="#ff0000"/>
<rect x="634" y="463" width="3" height="13" fill="#ff0000"/>
<rect x="638" y="464" width="3" height="12" fill="#ff0000"/>
<rect x="642" y="467" width="3" height="9" fill="#ff0000"/>
<rect x="646" y="470" width="3" height="6" fill="#ff0000"/>
<rect x="650" y="476" width="3" height="5" fill="#ff0000"/>
<rect x="654" y="476" width="3" height="14" fill="#ff0000"/>
<rect x="658" y="476" width="3" height="20" fill="#ff0000"/>
<rect x="662" y="476" width="3" height="26" fill="#ff0000"/>
<rect x="666" y="476" width="3" height="33" fill="#ff0000"/>
<rect x="670" y="476" width="3" height="44" fill="#ff0000"/>
<rect x="674" y="476" width="3" height="54" fill="#ff0000"/>
<rect x="678" y="476" width="3" height="63" fill="#ff0000"/>
<rect x="682" y="476" width="3" height="73" fill="#ff0000"/>
<rect x="686" y="476" width="3" height="79" fill="#ff0000"/>
<rect x="690" y="476" width="3" height="84" fill="#ff0000"/>
<rect x="694" y="476" width="3" height="88" fill="#ff0000"/>
<rect x="698" y="476" width="3" height="88" fill="#ff0000"/>
<rect x="702" y="476" width="3" height="87" fill="#008000"/>
<rect x="706" y="476" width="3" height="86" fill="#008000"/>
<rect x="710" y="476" width="3" height="90" fill="#ff0000"/>
<rect x="714" y="476" width="3" height="90" fill="#ff0000"/>
<rect x="718" y="476" width="3" height="94" fill="#ff0000"/>
<rect x="722" y="476" width="3" height="97" fill="#ff0000"/>
</g>
<path shape-rendering="crispEdges" fill="#0000ff" d="M3 432h1v1h-1zM4 432h1v1h-1zM5 433h1v1h-1zM6 434h1v1h-1zM7 435h1v1h-1zM8 436h1v1h-1zM9 437h1v1h-1zM10 438h1v1h-1zM11 439h1v1h-1zM12 439h1v1h-1zM13 440h1v1h-1zM14 441h1v1h-1zM15 442h1v1h-1zM16 443h1v1h-1zM17 444h1v1h-1zM18 445h1v1h-1zM19 446h1v1h-1zM20 446h1v1h-1zM21 447h1v1h-1zM22 448h1v1h-1zM23 449h1v1h-1zM24 450h1v1h-1zM25 451h1v1h-1zM26 452h1v1h-1zM27 452h1v1h-1zM28 453h1v1h-1zM29 454h1v1h-1zM30 455h1v1h-1zM31 456h1v1h-1zM32 457h1v1h-1zM33 458h1v1h-1zM34 458h1v1h-1zM35 459h1v1h-1zM36 460h1v1h-1zM37 461h1v1h-1zM38 462h1v1h-1zM39 462h1v1h-1zM40 463h1v1h-1zM41 464h1v1h-1zM42 464h1v1h-1zM43 465h1v1h-1zM44 466h1v1h-1zM45 466h1v1h-1zM46 467h1v1h-1zM47 468h1v1h-1zM48 468h1v1h-1zM49 469h1v1h-1zM50 469h1v1h-1zM51 470h1v1h-1zM52 471h1v1h-1zM53 471h1v1h-1zM54 472h1v1h-1zM55 473h1v1h-1zM56 473h1v1h-1zM57 474h1v1h-1zM58 474h1v1h-1zM59 475h1v1h-1zM60 476h1v1h-1zM61 477h1v1h-1zM62 477h1v1h-1zM63 478h1v1h-1zM64 479h1v1h-1zM65 480h1v1h-1zM66 480h1v1h-1zM67 481h1v1h-1zM68 482h1v1h-1zM69 482h1v1h-1zM70 483h1v1h-1zM71 483h1v1h-1zM72 484h1v1h-1zM73 484h1v1h-1zM74 484h1v1h-1zM75 485h1v1h-1zM76 485h1v1h-1zM77 486h1v1h-1zM78 486h1v1h-1zM79 486h1v1h-1zM80 487h1v1h-1zM81 487h1v1h-1zM82 487h1v1h-1zM83 488h1v1h-1zM84 488h1v1h-1zM85 489h1v1h-1zM86 489h1v1h-1zM87 489h1v1h-1zM88 489h1v1h-1zM89 489h1v1h-1zM90 489h1v1h-1zM91 489h1v1h-1zM92 489h1v1h-1zM93 489h1v1h-1zM94 489h1v1h-1zM95 489h1v1h-1zM96 489h1v1h-1zM97 489h1v1h-1zM98 489h1v1h-1zM99 489h1v1h-1zM100 489h1v1h-1zM101 489h1v1h-1zM102 489h1v1h-1zM103 489h1v1h-1zM104 489h1v1h-1zM105 489h1v1h-1zM106 489h1v1h-1zM107 489h1v1h-1zM108 489h1v1h-1zM109 489h1v1h-1zM110 489h1v1h-1zM111 489h1v1h-1zM112 489h1v1h-1zM113 489h1v1h-1zM114 490h1v1h-1zM115 490h1v1h-1zM116 490h1v1h-1zM117 490h1v1h-1zM118 490h1v1h-1zM119 490h1v1h-1zM120 490h1v1h-1zM121 490h1v1h-1zM122 490h1v1h-1zM123 491h1v1h-1zM124 491h1v1h-1zM125 491h1v1h-1zM126 492h1v1h-1zM127 492h1v1h-1zM128 492h1v1h-1zM129 493h1v1h-1zM130 493h1v1h-1zM131 494h1v1h-1zM132 495h1v1h-1zM133 496h1v1h-1zM134 497h1v1h-1zM135 498h1v1h-1zM136 499h1v1h-1zM137 500h1v1h-1zM138 501h1v1h-1zM139 502h1v1h-1zM140 503h1v1h-1zM141 504h1v1h-1zM142 505h1v1h-1zM143 506h1v1h-1zM144 507h1v2h-1zM145 509h1v2h-1zM146 511h1v1h-1zM147 512h1v2h-1zM148 514h1v1h-1zM149 515h1v2h-1zM150 517h1v1h-1zM151 518h1v2h-1zM152 520h1v1h-1zM153 521h1v2h-1zM154 523h1v2h-1zM155 525h1v1h-1zM156 526h1v2h-1zM157 528h1v1h-1zM158 529h1v2h-1zM159 531h1v2h-1zM160 533h1v1h-1zM161 534h1v2h-1zM162 536h1v1h-1zM163 537h1v2h-1zM164 539h1v1h-1zM165 540h1v1h-1zM166 541h1v1h-1zM167 542h1v1h-1zM168 543h1v1h-1zM169 544h1v1h-1zM170 545h1v1h-1zM171 546h1v1h-1zM172 547h1v2h-1zM173 549h1v1h-1zM174 550h1v1h-1zM175 551h1v1h-1zM176 552h1v1h-1zM177 552h1v1h-1zM178 552h1v1h-1zM179 552h1v1h-1zM180 552h1v1h-1zM181 553h1v1h-1zM182 553h1v1h-1zM183 552h1v1h-1zM184 552h1v1h-1zM185 551h1v1h-1zM186 551h1v1h-1zM187 551h1v1h-1zM188 550h1v1h-1zM189 550h1v1h-1zM190 549h1v1h-1zM191 549h1v1h-1zM192 548h1v1h-1zM193 548h1v1h-1zM194 547h1v1h-1zM195 547h1v1h-1zM196 546h1v1h-1zM197 546h1v1h-1zM198 545h1v1h-1zM199 544h1v1h-1zM200 544h1v1h-1zM201 543h1v1h-1zM202 542h1v1h-1zM203 542h1v1h-1zM204 541h1v1h-1zM205 540h1v1h-1zM206 539h1v1h-1zM207 538h1v1h-1zM208 538h1v1h-1zM209 537h1v1h-1zM210 536h1v1h-1zM211 536h1v1h-1zM212 535h1v1h-1zM213 534h1v1h-1zM214 533h1v1h-1zM215 532h1v1h-1zM216 532h1v1h-1zM217 531h1v1h-1zM218 530h1v1h-1zM219 530h1v1h-1zM220 529h1v1h-1zM221 528h1v1h-1zM222 527h1v1h-1zM223 526h1v1h-1zM224 526h1v1h-1zM225 525h1v1h-1zM226 524h1v1h-1zM227 524h1v1h-1zM228 523h1v1h-1zM229 522h1v1h-1zM230 522h1v1h-1zM231 521h1v1h-1zM232 521h1v1h-1zM233 520h1v1h-1zM234 520h1v1h-1zM235 520h1v1h-1zM236 520h1v1h-1zM237 519h1v1h-1zM238 519h1v1h-1zM239 519h1v1h-1zM240 519h1v1h-1zM241 518h1v1h-1zM242 518h1v1h-1zM243 518h1v1h-1zM244 518h1v1h-1zM245 518h1v1h-1zM246 517h1v1h-1zM247 517h1v1h-1zM248 517h1v1h-1zM249 517h1v1h-1zM250 517h1v1h-1zM251 517h1v1h-1zM252 517h1v1h-1zM253 517h1v1h-1zM254 517h1v1h-1zM255 518h1v1h-1zM256 518h1v1h-1zM257 518h1v1h-1zM258 519h1v1h-1zM259 519h1v1h-1zM260 520h1v1h-1zM261 520h1v1h-1zM262 520h1v1h-1zM263 521h1v1h-1zM264 521h1v1h-1zM265 521h1v1h-1zM266 521h1v1h-1zM267 521h1v1h-1zM268 521h1v1h-1zM269 522h1v1h-1zM270 522h1v1h-1zM271 522h1v1h-1zM272 521h1v1h-1zM273 521h1v1h-1zM274 521h1v1h-1zM275 520h1v1h-1zM276 520h1v1h-1zM277 519h1v1h-1zM278 519h1v1h-1zM279 518h1v1h-1zM280 518h1v1h-1zM281 517h1v1h-1zM282 517h1v1h-1zM283 516h1v1h-1zM284 516h1v1h-1zM285 516h1v1h-1zM286 515h1v1h-1zM287 515h1v1h-1zM288 514h1v1h-1zM289 513h1v1h-1zM290 512h1v1h-1zM291 512h1v1h-1zM292 511h1v1h-1zM293 510h1v1h-1zM294 509h1v1h-1zM295 508h1v1h-1zM296 507h1v1h-1zM297 506h1v1h-1zM298 505h1v1h-1zM299 504h1v1h-1zM300 503h1v1h-1zM301 502h1v1h-1zM302 501h1v1h-1zM303 500h1v1h-1zM304 499h1v1h-1zM305 498h1v1h-1zM306 498h1v1h-1zM307 497h1v1h-1zM308 496h1v1h-1zM309 496h1v1h-1zM310 495h1v1h-1zM311 494h1v1h-1zM312 494h1v1h-1zM313 493h1v1h-1zM314 492h1v1h-1zM315 492h1v1h-1zM316 491h1v1h-1zM317 491h1v1h-1zM318 490h1v1h-1zM319 489h1v1h-1zM320 489h1v1h-1zM321 488h1v1h-1zM322 487h1v1h-1zM323 487h1v1h-1zM324 486h1v1h-1zM325 486h1v1h-1zM326 485h1v1h-1zM327 485h1v1h-1zM328 485h1v1h-1zM329 484h1v1h-1zM330 484h1v1h-1zM331 484h1v1h-1zM332 483h1v1h-1zM333 483h1v1h-1zM334 482h1v1h-1zM335 482h1v1h-1zM336 482h1v1h-1zM337 481h1v1h-1zM338 481h1v1h-1zM339 481h1v1h-1zM340 480h1v1h-1zM341 480h1v1h-1zM342 480h1v1h-1zM343 480h1v1h-1zM344 479h1v1h-1zM345 479h1v1h-1zM346 479h1v1h-1zM347 479h1v1h-1zM348 478h1v1h-1zM349 478h1v1h-1zM350 478h1v1h-1zM351 478h1v1h-1zM352 477h1v1h-1zM353 477h1v1h-1zM354 477h1v1h-1zM355 477h1v1h-1zM356 477h1v1h-1zM357 476h1v1h-1zM358 476h1v1h-1zM359 476h1v1h-1zM360 476h1v1h-1zM361 476h1v1h-1zM362 476h1v1h-1zM363 475h1v1h-1zM364 475h1v1h-1zM365 475h1v1h-1zM366 475h1v1h-1zM367 475h1v1h-1zM368 475h1v1h-1zM369 475h1v1h-1zM370 475h1v1h-1zM371 475h1v1h-1zM372 475h1v1h-1zM373 475h1v1h-1zM374 475h1v1h-1zM375 475h1v1h-1zM376 475h1v1h-1zM377 475h1v1h-1zM378 475h1v1h-1zM379 475h1v1h-1zM380 475h1v1h-1zM381 475h1v1h-1zM382 475h1v1h-1zM383 475h1v1h-1zM384 475h1v1h-1zM385 475h1v1h-1zM386 475h1v1h-1zM387 475h1v1h-1zM388 475h1v1h-1zM389 475h1v1h-1zM390 475h1v1h-1zM391 475h1v1h-1zM392 475h1v1h-1zM393 475h1v1h-1zM394 475h1v1h-1zM395 475h1v1h-1zM396 475h1v1h-1zM397 475h1v1h-1zM398 475h1v1h-1zM399 476h1v1h-1zM400 476h1v1h-1zM401 477h1v1h-1zM402 477h1v1h-1zM403 478h1v1h-1zM404 478h1v1h-1zM405 479h1v1h-1zM406 479h1v1h-1zM407 480h1v1h-1zM408 480h1v1h-1zM409 480h1v1h-1zM410 481h1v1h-1zM411 481h1v1h-1zM412 482h1v1h-1zM413 482h1v1h-1zM414 482h1v1h-1zM415 483h1v1h-1zM416 483h1v1h-1zM417 484h1v1h-1zM418 484h1v1h-1zM419 484h1v1h-1zM420 484h1v1h-1zM421 485h1v1h-1zM422 485h1v1h-1zM423 485h1v1h-1zM424 485h1v1h-1zM425 486h1v1h-1zM426 486h1v1h-1zM427 486h1v1h-1zM428 486h1v1h-1zM429 486h1v1h-1zM430 486h1v1h-1zM431 486h1v1h-1zM432 486h1v1h-1zM433 485h1v1h-1zM434 485h1v1h-1zM435 484h1v1h-1zM436 484h1v1h-1zM437 483h1v1h-1zM438 483h1v1h-1zM439 483h1v1h-1zM440 483h1v1h-1zM441 482h1v1h-1zM442 482h1v1h-1zM443 482h1v1h-1zM444 481h1v1h-1zM445 481h1v1h-1zM446 481h1v1h-1zM447 481h1v1h-1zM448 481h1v1h-1zM449 481h1v1h-1zM450 481h1v1h-1zM451 481h1v1h-1zM452 481h1v1h-1zM453 481h1v1h-1zM454 481h1v1h-1zM455 481h1v1h-1zM456 481h1v1h-1zM457 481h1v1h-1zM458 481h1v1h-1zM459 481h1v1h-1zM460 482h1v1h-1zM461 482h1v1h-1zM462 482h1v1h-1zM463 482h1v1h-1zM464 483h1v1h-1zM465 483h1v1h-1zM466 483h1v1h-1zM467 483h1v1h-1zM468 484h1v1h-1zM469 484h1v1h-1zM470 484h1v1h-1zM471 485h1v1h-1zM472 485h1v1h-1zM473 486h1v1h-1zM474 486h1v1h-1zM475 487h1v1h-1zM476 487h1v1h-1zM477 488h1v1h-1zM478 488h1v1h-1zM479 489h1v1h-1zM480 489h1v1h-1zM481 490h1v1h-1zM482 490h1v1h-1zM483 490h1v1h-1zM484 491h1v1h-1zM485 491h1v1h-1zM486 492h1v1h-1zM487 492h1v1h-1zM488 492h1v1h-1zM489 493h1v1h-1zM490 493h1v1h-1zM491 493h1v1h-1zM492 494h1v1h-1zM493 494h1v1h-1zM494 494h1v1h-1zM495 495h1v1h-1zM496 495h1v1h-1zM497 495h1v1h-1zM498 496h1v1h-1zM499 496h1v1h-1zM500 496h1v1h-1zM501 496h1v1h-1zM502 496h1v1h-1zM503 496h1v1h-1zM504 496h1v1h-1zM505 496h1v1h-1zM506 496h1v1h-1zM507 496h1v1h-1zM508 496h1v1h-1zM509 496h1v1h-1zM510 496h1v1h-1zM511 496h1v1h-1zM512 496h1v1h-1zM513 496h1v1h-1zM514 496h1v1h-1zM515 495h1v1h-1zM516 495h1v1h-1zM517 495h1v1h-1zM518 494h1v1h-1zM519 494h1v1h-1zM520 494h1v1h-1zM521 493h1v1h-1zM522 493h1v1h-1zM523 493h1v1h-1zM524 492h1v1h-1zM525 492h1v1h-1zM526 491h1v1h-1zM527 491h1v1h-1zM528 490h1v1h-1zM529 490h1v1h-1zM530 489h1v1h-1zM531 489h1v1h-1zM532 488h1v1h-1zM533 488h1v1h-1zM534 487h1v1h-1zM535 486h1v1h-1zM536 485h1v1h-1zM537 485h1v1h-1zM538 484h1v1h-1zM539 483h1v1h-1zM540 482h1v1h-1zM541 481h1v1h-1zM542 481h1v1h-1zM543 480h1v1h-1zM544 479h1v1h-1zM545 478h1v1h-1zM546 477h1v1h-1zM547 476h1v1h-1zM548 475h1v1h-1zM549 474h1v1h-1zM550 473h1v1h-1zM551 472h1v1h-1zM552 471h1v1h-1zM553 470h1v1h-1zM554 469h1v1h-1zM555 468h1v1h-1zM556 468h1v1h-1zM557 467h1v1h-1zM558 466h1v1h-1zM559 465h1v1h-1zM560 464h1v1h-1zM561 463h1v1h-1zM562 463h1v1h-1zM563 462h1v1h-1zM564 461h1v1h-1zM565 461h1v1h-1zM566 460h1v1h-1zM567 460h1v1h-1zM568 459h1v1h-1zM569 458h1v1h-1zM570 458h1v1h-1zM571 457h1v1h-1zM572 457h1v1h-1zM573 456h1v1h-1zM574 456h1v1h-1zM575 456h1v1h-1zM576 455h1v1h-1zM577 455h1v1h-1zM578 455h1v1h-1zM579 454h1v1h-1zM580 454h1v1h-1zM581 453h1v1h-1zM582 453h1v1h-1zM583 453h1v1h-1zM584 452h1v1h-1zM585 452h1v1h-1zM586 452h1v1h-1zM587 451h1v1h-1zM588 451h1v1h-1zM589 451h1v1h-1zM590 450h1v1h-1zM591 450h1v1h-1zM592 449h1v1h-1zM593 449h1v1h-1zM594 449h1v1h-1zM595 448h1v1h-1zM596 448h1v1h-1zM597 447h1v1h-1zM598 447h1v1h-1zM599 446h1v1h-1zM600 446h1v1h-1zM601 446h1v1h-1zM602 445h1v1h-1zM603 445h1v1h-1zM604 444h1v1h-1zM605 444h1v1h-1zM606 444h1v1h-1zM607 444h1v1h-1zM608 443h1v1h-1zM609 443h1v1h-1zM610 443h1v1h-1zM611 442h1v1h-1zM612 442h1v1h-1zM613 442h1v1h-1zM614 442h1v1h-1zM615 442h1v1h-1zM616 442h1v1h-1zM617 442h1v1h-1zM618 442h1v1h-1zM619 442h1v1h-1zM620 442h1v1h-1zM621 442h1v1h-1zM622 442h1v1h-1zM623 442h1v1h-1zM624 442h1v1h-1zM625 442h1v1h-1zM626 443h1v1h-1zM627 443h1v1h-1zM628 443h1v1h-1zM629 444h1v1h-1zM630 444h1v1h-1zM631 445h1v1h-1zM632 445h1v1h-1zM633 446h1v1h-1zM634 446h1v1h-1zM635 447h1v1h-1zM636 447h1v1h-1zM637 448h1v1h-1zM638 449h1v1h-1zM639 449h1v1h-1zM640 450h1v1h-1zM641 451h1v1h-1zM642 451h1v1h-1zM643 452h1v1h-1zM644 453h1v1h-1zM645 453h1v1h-1zM646 454h1v1h-1zM647 455h1v1h-1zM648 456h1v1h-1zM649 457h1v1h-1zM650 458h1v1h-1zM651 459h1v1h-1zM652 460h1v1h-1zM653 461h1v2h-1zM654 463h1v1h-1zM655 464h1v1h-1zM656 465h1v2h-1zM657 467h1v1h-1zM658 468h1v2h-1zM659 470h1v1h-1zM660 471h1v1h-1zM661 472h1v2h-1zM662 474h1v1h-1zM663 475h1v2h-1zM664 477h1v1h-1zM665 478h1v2h-1zM666 480h1v2h-1zM667 482h1v1h-1zM668 483h1v2h-1zM669 485h1v2h-1zM670 487h1v1h-1zM671 488h1v2h-1zM672 490h1v2h-1zM673 492h1v1h-1zM674 493h1v2h-1zM675 495h1v2h-1zM676 497h1v2h-1zM677 499h1v1h-1zM678 500h1v2h-1zM679 502h1v2h-1zM680 504h1v2h-1zM681 506h1v2h-1zM682 508h1v2h-1zM683 510h1v2h-1zM684 512h1v2h-1zM685 514h1v2h-1zM686 516h1v2h-1zM687 518h1v2h-1zM688 520h1v2h-1zM689 522h1v2h-1zM690 524h1v2h-1zM691 526h1v1h-1zM692 527h1v2h-1zM693 529h1v2h-1zM694 531h1v2h-1zM695 533h1v2h-1zM696 535h1v2h-1zM697 537h1v2h-1zM698 539h1v2h-1zM699 541h1v1h-1zM700 542h1v2h-1zM701 544h1v1h-1zM702 545h1v2h-1zM703 547h1v1h-1zM704 548h1v1h-1zM705 549h1v2h-1zM706 551h1v1h-1zM707 552h1v1h-1zM708 553h1v1h-1zM709 554h1v2h-1zM710 556h1v1h-1zM711 557h1v1h-1zM712 558h1v1h-1zM713 558h1v1h-1zM714 559h1v1h-1zM715 560h1v1h-1zM716 561h1v1h-1zM717 561h1v1h-1zM718 562h1v1h-1zM719 562h1v1h-1zM720 563h1v1h-1zM721 563h1v1h-1zM722 563h1v1h-1zM723 564h1v1h-1zM724 564h1v1h-1zM725 564h1v1h-1zM726 565h1v1h-1zM727 565h1v1h-1z"/>
<g shape-rendering="crispEdges" fill="none" stroke="#000" stroke-width="1">
<rect x="2.5" y="2.5" width="752" height="420"/>
<rect x="2.5" y="424.5" width="752" height="155"/>
</g>
<g shape-rendering="crispEdges">
<rect x="755" y="23" width="2" height="1" fill="#000"/>
<rect x="755" y="56" width="2" height="1" fill="#000"/>
<rect x="755" y="89" width="2" height="1" fill="#000"/>
<rect x="755" y="122" width="2" height="1" fill="#000"/>
<rect x="755" y="155" width="2" height="1" fill="#000"/>
<rect x="755" y="188" width="2" height="1" fill="#000"/>
<rect x="755" y="221" width="2" height="1" fill="#000"/>
<rect x="755" y="254" width="2" height="1" fill="#000"/>
<rect x="755" y="287" width="2" height="1" fill="#000"/>
<rect x="755" y="320" width="2" height="1" fill="#000"/>
<rect x="755" y="353" width="2" height="1" fill="#000"/>
<rect x="755" y="386" width="2" height="1" fill="#000"/>
<rect x="755" y="419" width="2" height="1" fill="#000"/>
<rect x="755" y="426" width="1" height="1" fill="#000"/>
<rect x="755" y="476" width="1" height="1" fill="#000"/>
<rect x="3" y="580" width="1" height="2" fill="#000"/>
<rect x="67" y="580" width="1" height="2" fill="#000"/>
<rect x="131" y="580" width="1" height="2" fill="#000"/>
<rect x="195" y="580" width="1" height="2" fill="#000"/>
<rect x="259" y="580" width="1" height="2" fill="#000"/>
<rect x="323" y="580" width="1" height="2" fill="#000"/>
<rect x="387" y="580" width="1" height="2" fill="#000"/>
<rect x="451" y="580" width="1" height="2" fill="#000"/>
<rect x="515" y="580" width="1" height="2" fill="#000"/>
<rect x="579" y="580" width="1" height="2" fill="#000"/>
<rect x="643" y="580" width="1" height="2" fill="#000"/>
<rect x="707" y="580" width="1" height="2" fill="#000"/>
</g>
<text x="760.4" y="26.6" textLength="32.8" lengthAdjust="spacingAndGlyphs">110.755</text>
<text x="760.4" y="59.6" textLength="32.8" lengthAdjust="spacingAndGlyphs">110.545</text>
<text x="760.4" y="92.6" textLength="32.8" lengthAdjust="spacingAndGlyphs">110.340</text>
<text x="760.4" y="125.6" textLength="32.8" lengthAdjust="spacingAndGlyphs">110.130</text>
<text x="760.4" y="158.6" textLength="32.8" lengthAdjust="spacingAndGlyphs">109.920</text>
<text x="760.4" y="191.6" textLength="32.8" lengthAdjust="spacingAndGlyphs">109.710</text>
<text x="760.4" y="224.6" textLength="32.8" lengthAdjust="spacingAndGlyphs">109.500</text>
<text x="760.4" y="257.6" textLength="32.8" lengthAdjust="spacingAndGlyphs">109.290</text>
<text x="760.4" y="290.6" textLength="32.8" lengthAdjust="spacingAndGlyphs">109.080</text>
<text x="760.4" y="323.6" textLength="32.8" lengthAdjust="spacingAndGlyphs">108.875</text>
<text x="760.4" y="356.6" textLength="32.8" lengthAdjust="spacingAndGlyphs">108.665</text>
<text x="760.4" y="389.6" textLength="32.8" lengthAdjust="spacingAndGlyphs">108.455</text>
<text x="760.4" y="422.6" textLength="32.8" lengthAdjust="spacingAndGlyphs">108.245</text>
<g shape-rendering="crispEdges">
<rect x="756" y="33" width="41" height="11" fill="#ff0000"/>
<rect x="756" y="81" width="41" height="11" fill="#ff0000"/>
<rect x="756" y="149" width="41" height="11" fill="#ff0000"/>
<rect x="756" y="272" width="41" height="11" fill="#ff0000"/>
<rect x="756" y="293" width="41" height="11" fill="#ff0000"/>
<rect x="756" y="381" width="41" height="11" fill="#000"/>
</g>
<text x="760.4" y="41.6" textLength="32.6" lengthAdjust="spacingAndGlyphs" fill="#fff" class="w">110.658</text>
<text x="760.4" y="89.6" textLength="32.6" lengthAdjust="spacingAndGlyphs" fill="#fff" class="w">110.351</text>
<text x="760.4" y="157.6" textLength="32.6" lengthAdjust="spacingAndGlyphs" fill="#fff" class="w">109.919</text>
<text x="760.4" y="280.6" textLength="32.6" lengthAdjust="spacingAndGlyphs" fill="#fff" class="w">109.143</text>
<text x="760.4" y="301.6" textLength="32.6" lengthAdjust="spacingAndGlyphs" fill="#fff" class="w">109.008</text>
<text x="760.4" y="389.6" textLength="32.6" lengthAdjust="spacingAndGlyphs" fill="#fff" class="w">108.452</text>
<text x="758.4" y="435.2" textLength="37.4" lengthAdjust="spacingAndGlyphs">0.127278</text>
<text x="758.4" y="479.6" textLength="17.6" lengthAdjust="spacingAndGlyphs">0.00</text>
<text x="758" y="575.8" textLength="40.4" lengthAdjust="spacingAndGlyphs">-0.259248</text>
<text x="2.6" y="592" textLength="54.5" lengthAdjust="spacingAndGlyphs">22 May 2019</text>
<text x="66.6" y="592" textLength="57" lengthAdjust="spacingAndGlyphs">22 May 22:00</text>
<text x="130.6" y="592" textLength="57" lengthAdjust="spacingAndGlyphs">23 May 14:00</text>
<text x="194.6" y="592" textLength="57" lengthAdjust="spacingAndGlyphs">24 May 06:00</text>
<text x="258.6" y="592" textLength="57" lengthAdjust="spacingAndGlyphs">24 May 22:00</text>
<text x="322.6" y="592" textLength="57" lengthAdjust="spacingAndGlyphs">27 May 15:00</text>
<text x="386.6" y="592" textLength="57" lengthAdjust="spacingAndGlyphs">28 May 07:00</text>
<text x="450.6" y="592" textLength="57" lengthAdjust="spacingAndGlyphs">28 May 23:00</text>
<text x="514.6" y="592" textLength="57" lengthAdjust="spacingAndGlyphs">29 May 15:00</text>
<text x="578.6" y="592" textLength="57" lengthAdjust="spacingAndGlyphs">30 May 07:00</text>
<text x="642.6" y="592" textLength="57" lengthAdjust="spacingAndGlyphs">30 May 23:00</text>
<text x="706.6" y="592" textLength="57" lengthAdjust="spacingAndGlyphs">31 May 15:00</text>
<path shape-rendering="crispEdges" d="M6 9h7v1h-7zM7 10h5v1h-5zM8 11h3v1h-3zM9 12h1v1h-1z" fill="#000"/>
<text x="18.75" y="14" textLength="49.5" lengthAdjust="spacingAndGlyphs">USDJPY,H1</text>
<text x="75.5" y="14" textLength="32.7" lengthAdjust="spacingAndGlyphs">108.473</text>
<text x="111.3" y="14" textLength="32.7" lengthAdjust="spacingAndGlyphs">108.498</text>
<text x="147.4" y="14" textLength="32.7" lengthAdjust="spacingAndGlyphs">108.389</text>
<text x="183.3" y="14" textLength="32.7" lengthAdjust="spacingAndGlyphs">108.452</text>
<text x="7.8" y="437" textLength="88.8" lengthAdjust="spacingAndGlyphs">MACD_color(12,26,9)</text>
<text x="100.5" y="437" textLength="38.1" lengthAdjust="spacingAndGlyphs">0.000000</text>
<text x="141.6" y="437" textLength="37.8" lengthAdjust="spacingAndGlyphs">0.000000</text>
<text x="182.4" y="437" textLength="40.2" lengthAdjust="spacingAndGlyphs">-0.227389</text>
</svg></body></html>
